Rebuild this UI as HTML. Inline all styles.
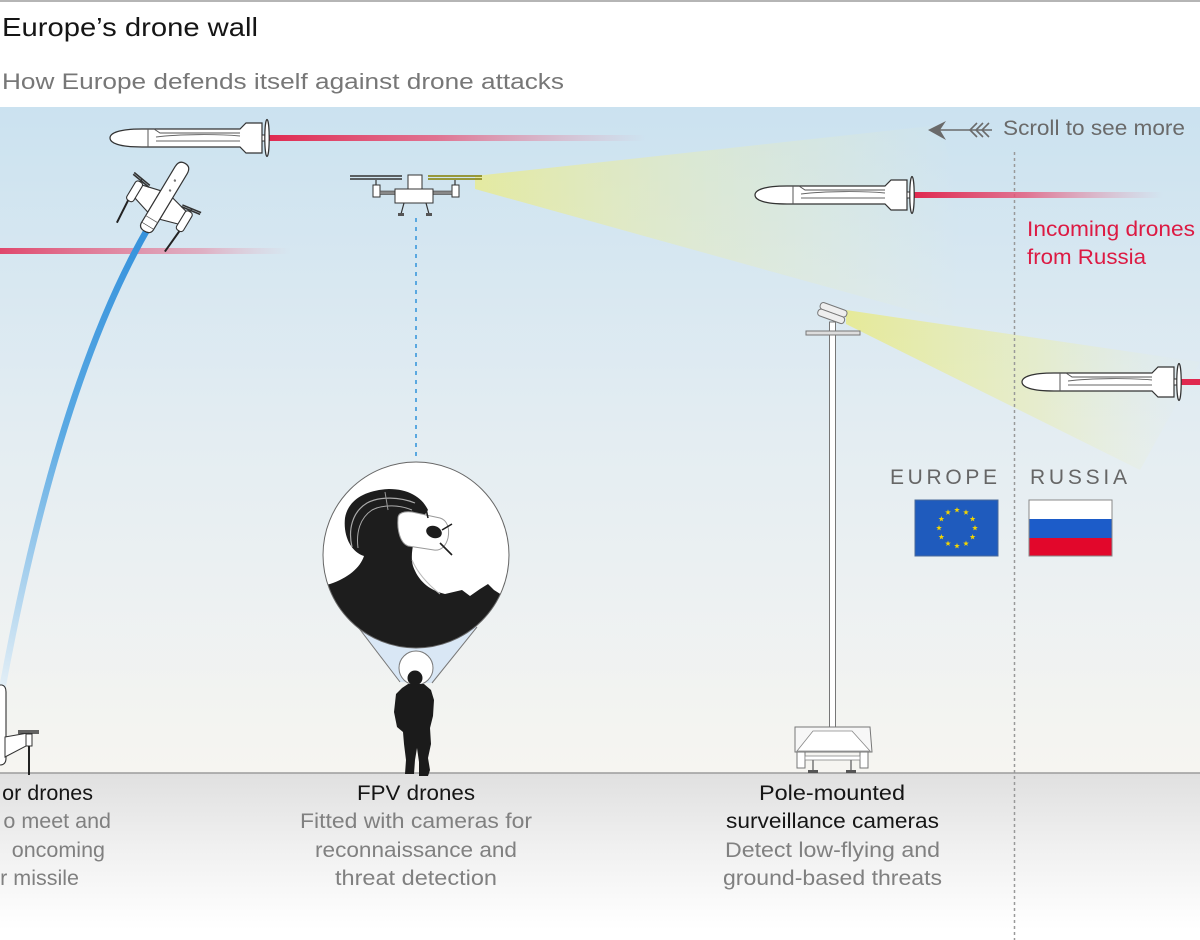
<!DOCTYPE html>
<html><head><meta charset="utf-8"><style>
html,body{margin:0;padding:0;background:#fff;}
svg{display:block;font-family:"Liberation Sans",sans-serif;}
</style></head><body>
<svg width="1200" height="940" viewBox="0 0 1200 940" xmlns="http://www.w3.org/2000/svg">
<defs>
<linearGradient id="sky" x1="0" y1="107" x2="0" y2="773" gradientUnits="userSpaceOnUse">
<stop offset="0" stop-color="#cbe2f0"/><stop offset="0.5" stop-color="#e4edf2"/><stop offset="1" stop-color="#f6f5f1"/>
</linearGradient>
<linearGradient id="ground" x1="0" y1="773" x2="0" y2="930" gradientUnits="userSpaceOnUse">
<stop offset="0" stop-color="#e0e0e0"/><stop offset="0.5" stop-color="#f1f1f1"/><stop offset="1" stop-color="#ffffff"/>
</linearGradient>
<linearGradient id="redR" x1="0" y1="0" x2="1" y2="0">
<stop offset="0" stop-color="#e0284f" stop-opacity="1"/><stop offset="0.45" stop-color="#e4577a" stop-opacity="0.8"/><stop offset="1" stop-color="#e88aa3" stop-opacity="0"/>
</linearGradient>
<linearGradient id="redL" x1="0" y1="0" x2="1" y2="0">
<stop offset="0" stop-color="#e0476c" stop-opacity="1"/><stop offset="0.7" stop-color="#e48aa4" stop-opacity="0.6"/><stop offset="1" stop-color="#e8b0c0" stop-opacity="0"/>
</linearGradient>
<linearGradient id="blue" x1="147" y1="230" x2="2" y2="690" gradientUnits="userSpaceOnUse">
<stop offset="0" stop-color="#3592dc"/><stop offset="0.45" stop-color="#5aa9e3"/><stop offset="1" stop-color="#e4eff6"/>
</linearGradient>
<linearGradient id="beam1" x1="475" y1="0" x2="960" y2="0" gradientUnits="userSpaceOnUse">
<stop offset="0" stop-color="#e6ea98" stop-opacity="0.9"/><stop offset="0.45" stop-color="#e8ecb0" stop-opacity="0.45"/><stop offset="1" stop-color="#eef0c0" stop-opacity="0"/>
</linearGradient>
<linearGradient id="beam2" x1="846" y1="0" x2="1170" y2="0" gradientUnits="userSpaceOnUse">
<stop offset="0" stop-color="#e6ea94" stop-opacity="0.95"/><stop offset="0.6" stop-color="#eaedaa" stop-opacity="0.5"/><stop offset="1" stop-color="#eef0c0" stop-opacity="0.05"/>
</linearGradient>
<clipPath id="cc"><circle cx="416" cy="555" r="93"/></clipPath>
<g id="missile">
<path d="M0,0 C0,-5 9,-9 32,-9 L130,-9 L136,-15 L152,-15 L152,15 L136,15 L130,9 L32,9 C9,9 0,5 0,0 Z" fill="#fff" stroke="#333" stroke-width="1.2"/>
<line x1="38" y1="-9" x2="38" y2="9" stroke="#555" stroke-width="1"/>
<path d="M44,-9 L50,-5 L130,-5" fill="none" stroke="#555" stroke-width="1"/>
<path d="M46,-1 C70,-4 108,-4 130,-2 M46,3 L130,3" fill="none" stroke="#666" stroke-width="0.9"/>
<rect x="152" y="-3" width="5" height="6" fill="#fff" stroke="#333" stroke-width="1"/>
<ellipse cx="157" cy="0" rx="2.2" ry="18.5" fill="#fff" stroke="#333" stroke-width="1.2"/>
</g>
<path id="star" d="M0,-3 L0.705,-0.971 L2.853,-0.927 L1.141,0.371 L1.763,2.427 L0,1.2 L-1.763,2.427 L-1.141,0.371 L-2.853,-0.927 L-0.705,-0.971 Z" fill="#f3d500"/>
</defs>

<!-- header -->
<rect x="0" y="0" width="1200" height="107" fill="#fff"/>
<rect x="0" y="0" width="1200" height="2" fill="#b5b5b5"/>
<text x="2" y="36" font-size="26" fill="#151515" textLength="256" lengthAdjust="spacingAndGlyphs">Europe’s drone wall</text>
<text x="2" y="89" font-size="22.5" fill="#777" textLength="562" lengthAdjust="spacingAndGlyphs">How Europe defends itself against drone attacks</text>

<!-- sky & ground -->
<rect x="0" y="107" width="1200" height="666" fill="url(#sky)"/>
<rect x="0" y="773" width="1200" height="167" fill="url(#ground)"/>
<line x1="0" y1="773" x2="1200" y2="773" stroke="#9c9c9c" stroke-width="1.5"/>

<!-- beams -->
<polygon points="475,176 475,189 1000,335 940,125" fill="url(#beam1)"/>
<polygon points="846,310 846,324 1140,470 1200,362" fill="url(#beam2)"/>

<!-- divider -->
<line x1="1014.5" y1="152" x2="1014.5" y2="940" stroke="#999" stroke-width="1.5" stroke-dasharray="3,3"/>

<!-- red trails -->
<rect x="266" y="135" width="380" height="6" fill="url(#redR)"/>
<rect x="0" y="248" width="290" height="6" fill="url(#redL)"/>
<rect x="913" y="192" width="250" height="6" fill="url(#redR)"/>
<rect x="1178" y="379" width="22" height="6" fill="#e0284f"/>

<!-- missiles -->
<use href="#missile" x="110" y="138"/>
<use href="#missile" x="755" y="195"/>
<use href="#missile" x="1022" y="382"/>

<!-- blue interceptor trail -->
<path d="M147,230 Q58,385 2,690" fill="none" stroke="url(#blue)" stroke-width="6.5" stroke-linecap="round"/>

<!-- VTOL drone -->
<g transform="translate(162,202) rotate(31)">
<line x1="-30" y1="15" x2="-28" y2="41" stroke="#222" stroke-width="2"/>
<line x1="30" y1="15" x2="28" y2="41" stroke="#222" stroke-width="2"/>
<path d="M-7,-9 L-27,-4 L-27,10 L-7,16 Z M7,-9 L27,-4 L27,10 L7,16 Z" fill="#fff" stroke="#333" stroke-width="1.1"/>
<rect x="-33" y="-6" width="8" height="22" rx="3" fill="#fff" stroke="#333" stroke-width="1.1"/>
<rect x="25" y="-6" width="8" height="22" rx="3" fill="#fff" stroke="#333" stroke-width="1.1"/>
<line x1="-29" y1="-6" x2="-29" y2="-9" stroke="#333" stroke-width="1.5"/>
<line x1="29" y1="-6" x2="29" y2="-9" stroke="#333" stroke-width="1.5"/>
<path d="M-39,-11 L-19,-8 M-39,-9 L-19,-6" stroke="#333" stroke-width="1.6"/>
<path d="M19,-8 L39,-11 M19,-6 L39,-9" stroke="#333" stroke-width="1.6"/>
<path d="M-7,28 L-7,-37 Q-7,-45 0,-45 Q7,-45 7,-37 L7,28 Z" fill="#fff" stroke="#333" stroke-width="1.2"/>
<path d="M-7,28 Q-7,34 0,34 Q7,34 7,28" fill="#fff" stroke="#333" stroke-width="1.2"/>
<line x1="-7" y1="20" x2="7" y2="20" stroke="#666" stroke-width="0.8"/>
<circle cx="0" cy="-25" r="1.2" fill="#777"/><circle cx="1" cy="-14" r="1.2" fill="#777"/>
</g>

<!-- quad drone -->
<g>
<line x1="416" y1="218" x2="416" y2="460" stroke="#5aa8e0" stroke-width="2" stroke-dasharray="4,5"/>
<path d="M350,176 L402,176 M350,179 L402,179" stroke="#333" stroke-width="1.6"/>
<path d="M428,176 L482,176 M428,179 L482,179" stroke="#8f8d22" stroke-width="1.8"/>
<line x1="376" y1="180" x2="376" y2="185" stroke="#333" stroke-width="1.2"/>
<line x1="455" y1="180" x2="455" y2="185" stroke="#333" stroke-width="1.2"/>
<rect x="373" y="185" width="7" height="12" fill="#fff" stroke="#333" stroke-width="1"/>
<rect x="452" y="185" width="7" height="12" fill="#fff" stroke="#333" stroke-width="1"/>
<rect x="380" y="191" width="72" height="3.5" fill="#888" stroke="#444" stroke-width="0.6"/>
<rect x="408" y="175" width="14" height="15" fill="#fff" stroke="#333" stroke-width="1"/>
<rect x="395" y="189" width="38" height="14" fill="#fff" stroke="#333" stroke-width="1"/>
<path d="M404,203 L401,214 M426,203 L429,214" stroke="#333" stroke-width="1.2"/>
<rect x="398" y="213" width="6" height="3" fill="#555"/>
<rect x="426" y="213" width="6" height="3" fill="#555"/>
</g>

<!-- FPV circle -->
<path d="M355,623 L400,682 L432,683 L477,627 Z" fill="#d9e7f5" stroke="none"/>
<line x1="355" y1="623" x2="400" y2="682" stroke="#777" stroke-width="1"/>
<line x1="477" y1="627" x2="432" y2="683" stroke="#777" stroke-width="1"/>
<circle cx="416" cy="668" r="17" fill="#fff" stroke="#777" stroke-width="1"/>
<circle cx="416" cy="555" r="93" fill="#fff"/>
<g clip-path="url(#cc)">
<path d="M300,700 L300,590 L330,584 C348,578 360,568 364,556 C351,552 343,536 345,518 C348,500 365,490 389,489 C408,489 422,497 428,510 L420,522 C413,540 410,556 413,566 C418,580 428,590 445,594 L462,590 L470,596 L480,589 L488,584 L494,590 L505,597 L520,700 Z" fill="#1d1d1d"/>
<path d="M352,547 C348,530 352,512 367,503 C380,496 400,497 415,503" fill="none" stroke="#aaa" stroke-width="1.2"/>
<path d="M358,548 C356,532 360,518 372,510 C384,504 400,505 412,510" fill="none" stroke="#aaa" stroke-width="1"/>
<path d="M385,492 L388,510" stroke="#999" stroke-width="1"/>
<path d="M398,518 C398,513 404,511 412,512 L440,518 C447,520 450,528 448,538 C446,546 441,551 434,550 L408,546 C400,543 397,530 398,518 Z" fill="#fff" stroke="#999" stroke-width="1"/>
<ellipse cx="434" cy="532" rx="8" ry="6" fill="#1d1d1d" transform="rotate(20 434 532)"/>
<path d="M426,509 L428,518 M442,530 L452,524 M440,543 L452,555" stroke="#1d1d1d" stroke-width="1.6"/>
<path d="M412,560 C418,574 430,586 440,594" fill="none" stroke="#bbb" stroke-width="1"/>
</g>
<circle cx="416" cy="555" r="93" fill="none" stroke="#666" stroke-width="1"/>

<!-- soldier -->
<g fill="#1b1b1b">
<circle cx="415" cy="678" r="7.5"/>
<path d="M408,684 L424,684 L431,690 L434,700 L433,716 L430,728 L431,744 L428,758 L430,770 L428,776 L419,776 L419,762 L417,748 L415,760 L414,774 L405,774 L406,760 L404,744 L403,732 L397,727 L394,712 L396,694 L402,688 Z"/>
</g>

<!-- pole camera -->
<g>
<rect x="829.5" y="322" width="6" height="408" fill="#fff" stroke="#777" stroke-width="1"/>
<rect x="806" y="331" width="54" height="4" fill="#ddd" stroke="#777" stroke-width="1"/>
<g transform="rotate(20 832 314)">
<rect x="818" y="306" width="28" height="7" rx="3" fill="#eee" stroke="#777" stroke-width="1"/>
<rect x="818" y="313" width="28" height="7" rx="3" fill="#eee" stroke="#777" stroke-width="1"/>
</g>
<path d="M795,727 L870,727 L872,752 L795,752 Z" fill="#f7f7f7" stroke="#777" stroke-width="1"/>
<path d="M813,731 L852,731 L870,751 L797,751 Z" fill="#fff" stroke="#888" stroke-width="0.8"/>
<rect x="797" y="752" width="8" height="16" fill="#fff" stroke="#777" stroke-width="1"/>
<rect x="860" y="752" width="8" height="16" fill="#fff" stroke="#777" stroke-width="1"/>
<rect x="805" y="756" width="55" height="4" fill="#fff" stroke="#888" stroke-width="0.8"/>
<path d="M813,760 L813,772 M851,760 L851,772" stroke="#777" stroke-width="1.5"/>
<rect x="808" y="770" width="10" height="3" fill="#555"/>
<rect x="846" y="770" width="10" height="3" fill="#555"/>
</g>

<!-- left partial drone -->
<g>
<path d="M0,685 L2,685 Q6,686 6,692 L6,758 Q6,765 0,765" fill="#fff" stroke="#333" stroke-width="1.1"/>
<path d="M5,737 L28,733 L28,745 L5,757 Z" fill="#fff" stroke="#333" stroke-width="1"/>
<rect x="26" y="734" width="6" height="12" fill="#fff" stroke="#333" stroke-width="1"/>
<path d="M18,731 L39,731 M18,733 L39,733" stroke="#333" stroke-width="1.4"/>
<line x1="29" y1="746" x2="29" y2="775" stroke="#222" stroke-width="2"/>
</g>

<!-- scroll hint -->
<g stroke="#6a6a6a" fill="none" stroke-width="1.6">
<line x1="936" y1="130" x2="992" y2="130"/>
<path d="M977,123 L970,130 L977,137 M983,123 L976,130 L983,137 M989,123 L982,130 L989,137"/>
</g>
<path d="M928,130 L946,121 L940,130 L946,140 Z" fill="#6a6a6a"/>
<text x="1003" y="135" font-size="21.5" fill="#6a6a6a" textLength="182" lengthAdjust="spacingAndGlyphs">Scroll to see more</text>

<!-- Incoming label -->
<text x="1027" y="236" font-size="21.5" fill="#dc1a43" textLength="168" lengthAdjust="spacingAndGlyphs">Incoming drones</text>
<text x="1027" y="264" font-size="21.5" fill="#dc1a43" textLength="119" lengthAdjust="spacingAndGlyphs">from Russia</text>

<!-- flags -->
<text x="890" y="484" font-size="21" fill="#666" textLength="107" lengthAdjust="spacing">EUROPE</text>
<text x="1030" y="484" font-size="21" fill="#666" textLength="97" lengthAdjust="spacing">RUSSIA</text>
<rect x="915" y="500" width="83" height="56" fill="#1f5bbd" stroke="#4a6a9a" stroke-width="1"/>
<use href="#star" x="957" y="510"/><use href="#star" x="966" y="512.4"/><use href="#star" x="972.6" y="519"/>
<use href="#star" x="975" y="528"/><use href="#star" x="972.6" y="537"/><use href="#star" x="966" y="543.6"/>
<use href="#star" x="957" y="546"/><use href="#star" x="948" y="543.6"/><use href="#star" x="941.4" y="537"/>
<use href="#star" x="939" y="528"/><use href="#star" x="941.4" y="519"/><use href="#star" x="948" y="512.4"/>
<rect x="1029" y="500" width="83" height="19" fill="#fff"/>
<rect x="1029" y="519" width="83" height="19" fill="#1c5cc9"/>
<rect x="1029" y="538" width="83" height="18" fill="#e2072b"/>
<rect x="1029" y="500" width="83" height="56" fill="none" stroke="#888" stroke-width="1"/>

<!-- bottom labels -->
<g font-size="21.5">
<text x="93" y="800" text-anchor="end" fill="#151515">or drones</text>
<text x="111" y="828" text-anchor="end" fill="#808080">o meet and</text>
<text x="105" y="857" text-anchor="end" fill="#808080">oncoming</text>
<text x="79" y="885" text-anchor="end" fill="#808080">r missile</text>

<text x="357" y="800" fill="#151515" textLength="118" lengthAdjust="spacingAndGlyphs">FPV drones</text>
<text x="300" y="828" fill="#808080" textLength="232" lengthAdjust="spacingAndGlyphs">Fitted with cameras for</text>
<text x="315" y="857" fill="#808080" textLength="202" lengthAdjust="spacingAndGlyphs">reconnaissance and</text>
<text x="335" y="885" fill="#808080" textLength="162" lengthAdjust="spacingAndGlyphs">threat detection</text>

<text x="759" y="800" fill="#151515" textLength="146" lengthAdjust="spacingAndGlyphs">Pole-mounted</text>
<text x="726" y="828" fill="#151515" textLength="213" lengthAdjust="spacingAndGlyphs">surveillance cameras</text>
<text x="725" y="857" fill="#808080" textLength="215" lengthAdjust="spacingAndGlyphs">Detect low-flying and</text>
<text x="723" y="885" fill="#808080" textLength="219" lengthAdjust="spacingAndGlyphs">ground-based threats</text>
</g>
</svg>
</body></html>
